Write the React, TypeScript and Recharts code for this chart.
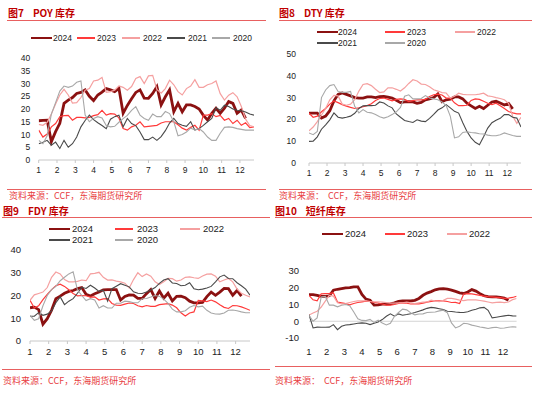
import { LineChart, Line, XAxis, YAxis, ReferenceLine } from 'recharts'

// weekly inventory (days)
const poy2024 = [15.4, 15.5, 15.6, 7.2, 11.1, 14.4, 22.2, 23.5, 24.5, 26.1, 26.5, 27.5, 25, 23.3, 25.5, 26.6, 28, 27.5, 26.8, 28.1, 18.3, 21.4, 24, 26.5, 27.5, 24.3, 24.2, 26.1, 28.8, 21.6, 24.8, 27.5, 18.9, 22.2, 18.9, 21.6, 21.6, 21, 20, 17.5, 15.7, 18.3, 20.3, 18.3, 20.3, 22.9, 22.2, 18.3, 19.6, 16.3]
const poy2023 = [11.7, 9, 10.2, 13, 14.3, 17, 17.4, 17.5, 15.6, 16.7, 16.7, 16.5, 16.7, 17.4, 17.8, 19.5, 17.6, 18.2, 18, 16.5, 12.3, 11.7, 13, 13.6, 15, 13, 13.2, 13.4, 13.6, 14.5, 15, 15, 15, 13.8, 12.5, 11.7, 12.8, 13.6, 11.7, 17.6, 17.6, 18.2, 17, 17.5, 15.6, 16.3, 14.3, 15.6, 13.6, 14.6, 12.7, 13]
const poy2022 = [14, 13.6, 14.8, 18, 22, 25.5, 27.7, 25.5, 22.3, 22.5, 24.5, 27.4, 28, 31, 31.3, 32.4, 26.5, 26.8, 27.4, 29, 28.5, 27.4, 28.8, 32, 32.7, 30, 33, 33.2, 27.7, 26.2, 28, 31.3, 29.5, 26.8, 25.5, 28, 29, 31.5, 28.5, 28.5, 29.5, 30, 31, 26, 23.5, 25.4, 26.4, 24.8, 21, 16, 13.5, 13]
const poy2021 = [6.4, 7, 7.7, 5.8, 7, 4.5, 7.7, 5, 6.4, 9, 13, 15.5, 17.6, 15.8, 14.6, 13.5, 12.3, 16, 17, 17.6, 13, 16.3, 14.3, 13.5, 11, 8, 8, 9, 7.7, 9.2, 11.5, 14.5, 16.3, 14.3, 13.6, 13.2, 15, 11.7, 12.3, 13.6, 15, 16.3, 20.5, 19.5, 21.5, 21, 20, 19.5, 19.3, 18.8, 18, 17.6]
const poy2020 = [7.7, 6.4, 9.5, 18, 22.5, 27, 29, 28.5, 29, 30.5, 31, 17.6, 15, 16.3, 17, 16.5, 13.5, 13, 13.2, 14.8, 16.2, 17.5, 19.5, 20.9, 17.6, 16.3, 15.6, 18, 17, 17, 19, 18.2, 15, 9.5, 10, 11, 12.5, 11.8, 12.3, 11, 9, 7.7, 7.7, 10.5, 12.8, 13, 12.8, 12.3, 12, 11.7, 11.7, 11.7]

const dty2024 = [22.9, 22.9, 22.9, 20.6, 21.5, 24, 28.5, 31.5, 32.1, 31.5, 30.8, 30, 29.8, 29.8, 30.3, 30.3, 30, 30.4, 30.6, 30.2, 29.8, 28.8, 27.7, 28, 28.1, 28, 27.4, 27.8, 29, 29.4, 30, 31.7, 28.1, 29, 29.3, 30.3, 30.3, 29.4, 27.4, 26.2, 25, 26, 25, 26.5, 28, 28.3, 27.5, 26.6, 27.3, 24.8]
const dty2023 = [22.9, 21, 21.5, 23.5, 25, 27, 28.5, 27.7, 26.8, 26.1, 25.5, 25, 25.3, 25.8, 26.3, 27.2, 28.7, 29.6, 29.8, 29.2, 28.5, 29.2, 29.4, 29.2, 28.2, 28.6, 29, 29, 29.2, 30.5, 31.3, 31.6, 31.2, 29.8, 29.8, 27.6, 26.3, 26.3, 26.5, 28.7, 29.4, 29.2, 28.3, 27.4, 26.8, 27.4, 26.3, 25, 23.6, 23, 22.5, 22.5]
const dty2022 = [14.8, 16.5, 19, 22, 25, 29, 31, 30.8, 27, 26.5, 27, 29, 33, 36, 36.4, 35.5, 33.8, 32.3, 32.6, 34.5, 34.5, 33.8, 33, 34.5, 36.5, 38.2, 37.6, 36.2, 36, 35, 33.6, 33, 32.3, 32.1, 29.8, 30.6, 32, 31.5, 31.3, 31.3, 31.3, 31.6, 32, 30.8, 30.5, 30, 29.6, 29, 27.4, 21.4, 18.2, 21]
const dty2021 = [9.9, 10, 12, 15.5, 17.5, 19.8, 23, 21, 20.6, 21, 21.5, 22.8, 25, 26.2, 26.3, 26.3, 26.5, 28, 27.5, 26.2, 25.3, 22.5, 21, 19.5, 19, 18.6, 19.8, 19.2, 19, 20.5, 22.3, 24.3, 25.3, 26.8, 25.3, 23.7, 22.9, 18.5, 14.5, 11.5, 9.5, 8.4, 12, 16, 18.5, 19.6, 20.5, 22.2, 22.2, 21, 20.6, 16.5]
const dty2020 = [13.8, 13, 14.5, 30, 33.5, 35.5, 36, 32.8, 32.4, 32.4, 32.8, 26, 23, 24.5, 23.3, 23, 22.2, 21.2, 20.6, 21.2, 22.2, 23.5, 25.5, 30.6, 31.3, 29.4, 29.4, 29.6, 30.9, 29.8, 29.4, 29, 28, 26.3, 21.4, 11.5, 12, 14, 14.3, 14, 13.8, 13.4, 13.3, 12.8, 12.5, 12.5, 13, 13.8, 13.2, 12.6, 12.2, 12.2]

const fdy2024 = [14.6, 14.9, 13.8, 7.4, 9.8, 13.5, 18.6, 19.7, 21, 21.8, 22.2, 23, 23.5, 20.5, 19.8, 20.8, 21.5, 22.5, 22.6, 22.6, 22.6, 18, 19.6, 20.3, 20.2, 18.7, 18.7, 20.8, 22.6, 18.7, 22, 18.8, 21, 17.6, 19.6, 19.7, 19, 17.5, 16.8, 16.8, 17, 19.5, 21.5, 20.1, 21.5, 23.1, 23, 20.1, 22.2, 19.7]
const fdy2023 = [17.9, 14.5, 15.5, 18.2, 20.5, 22.6, 24.3, 25, 24, 22.5, 20.9, 19.8, 20, 19.9, 19.3, 19.4, 18, 18.5, 18.6, 16.5, 15.8, 15.7, 16.2, 16.7, 16.5, 15.5, 15, 15.6, 15.2, 15.2, 16, 16.2, 16.4, 15.8, 14.6, 12.4, 11, 12.3, 12.8, 17.8, 17.6, 17.3, 18, 17.2, 15.9, 14.8, 14.3, 15.6, 15.5, 15, 14.3, 13.5]
const fdy2022 = [17.9, 20.3, 20.9, 21.5, 23.5, 28, 30.3, 29.5, 27, 26, 26, 26.2, 26.8, 26.5, 29.5, 29.7, 30.2, 28, 26.8, 26.9, 26.3, 26, 25.4, 23.3, 27, 30, 28.3, 29.5, 28.5, 26, 24.8, 26, 27.5, 27.4, 26.3, 26.8, 28, 28.2, 27.8, 27.5, 28.6, 29.4, 29.5, 28.5, 26, 26.8, 27.5, 26, 22.8, 21, 20.1, 19.4]
const fdy2021 = [10.9, 10.9, 12.5, 11.3, 11.8, 13.2, 16.8, 19.4, 16, 17.5, 18.6, 21, 23.6, 23.1, 24.5, 23.3, 21.8, 22.3, 17.5, 23, 24.1, 25.2, 24.5, 23.8, 21.6, 21, 20.9, 21.5, 22.4, 23.5, 25.3, 26.8, 27.4, 25.5, 25.3, 24.3, 24.5, 25.6, 23, 22.5, 22.8, 23.3, 24, 26, 28.2, 29, 27.5, 27.4, 25.6, 24.3, 22.8, 20.1]
const fdy2020 = [11.3, 9.1, 9.8, 15.5, 20, 22.6, 24, 26.5, 28, 29.5, 30.4, 22.5, 20, 17.8, 18.6, 18, 14.5, 15.5, 14.5, 14.5, 16.6, 16.6, 17.5, 17.3, 16.8, 16.8, 18.6, 18.7, 19.3, 20, 19.6, 18.4, 16.5, 14, 12.8, 12.8, 13.3, 14.8, 15.6, 15, 15.3, 13.5, 12.3, 11.9, 11.8, 12.3, 13.5, 13.6, 13.3, 12.8, 12.4, 12.4]

const psf2024 = [15.9, 15.9, 15.5, 14.9, 14.9, 15.2, 18.5, 19.1, 19.5, 19.9, 20.1, 20.5, 20.5, 16, 13.2, 12.5, 9.6, 9.8, 10.2, 10.2, 10.4, 11, 11.8, 12.2, 12.2, 12.2, 12.5, 13.6, 15.5, 16.8, 17.7, 18.8, 19.3, 19.5, 19.2, 18.6, 17.8, 17, 16.6, 17.5, 18.9, 18, 16.5, 15.2, 14.7, 14.5, 14.5, 14.2, 13.8, 12.6]
const psf2023 = [15.5, 12.8, 12.2, 16.4, 16.5, 16.6, 16.9, 11.5, 11, 10.5, 9.8, 10.6, 11.2, 11.6, 12, 11.8, 11.3, 10.9, 10.3, 9.6, 9.6, 10, 10.6, 11, 10.8, 10.3, 10.5, 10.4, 10.8, 11.4, 11.9, 12.2, 12.2, 12.2, 11.8, 11.2, 11.3, 10.6, 16.3, 16.5, 16.3, 15.9, 15.5, 15, 14.7, 14.5, 14.3, 14.1, 13.7, 13.8, 14.2, 14.9]
const psf2022 = [3.7, 4.9, 6, 8.5, 12, 15.5, 15, 11, 10.3, 10.6, 11.2, 11.8, 12.2, 12.2, 12.2, 11.8, 11.6, 11.6, 11.5, 11.1, 10.8, 10.8, 11, 11, 11.4, 11, 10.6, 11, 11.4, 11.5, 12.6, 12, 11.7, 12.5, 13.6, 13.6, 13.2, 12.6, 12.3, 12.8, 12.8, 12.8, 12.4, 12, 11.5, 11, 11.3, 11.4, 11.1, 11.5, 12.9, 13.6]
const psf2021 = [4, -4, -3.5, -3.6, -3.6, -3.5, -2, -5, -3, -2.2, -2, -1.6, -1.2, -1, -1.2, -2, -1.2, -0.5, 1, 3, 4.4, 3, 4.4, 3.6, 4, 4.5, 5.2, 6, 6.8, 7.7, 8.3, 8, 7.5, 7, 6, 5.8, 5.5, 5.3, 5.2, 5.7, 6.6, 7.2, 8, 8.3, 6.5, 2, 2.4, 2.8, 3.2, 3.6, 3.2, 3.1]
const psf2020 = [3.5, 0, 2, 14.5, 14.8, 9.6, 9.6, 8.6, 9.6, 10, 9.3, 5.5, 1.5, 0.5, 0.4, 1.1, -0.8, 0.6, -1, -2.2, -1.2, 3, 5.2, 7.2, 6.8, 5, 3.8, 4.3, 4.4, 5.2, 5.4, 5.5, 6.2, 6.6, 5, -1, -4, -3, -1.2, -1.5, -2.3, -2.8, -3.4, -3.8, -4.3, -3.8, -3.6, -4.2, -4, -3.6, -3.3, -3.5]

const MONTHS = [1, 2, 3, 4, 5, 6, 7, 8, 9, 10, 11, 12]
const X_END = 1 + (51 * 12) / 52

const STYLE: Record<string, { color: string; width: number }> = {
  '2024': { color: '#8b1111', width: 2.8 },
  '2023': { color: '#ff3a3a', width: 1.2 },
  '2022': { color: '#f5a0a0', width: 1.2 },
  '2021': { color: '#4a4a4a', width: 1.1 },
  '2020': { color: '#a8a8a8', width: 1.1 },
}

const TITLE_RED = '#c00000'
const SRC_RED = '#e8413f'
const NUM_FONT = '"Liberation Sans", Arial, sans-serif'
const CJK_FONT = '"Noto Sans CJK SC", "Liberation Sans", sans-serif'

function buildRows(series: Record<string, number[]>) {
  const n = Math.max(...Object.values(series).map((s) => s.length))
  return Array.from({ length: n }, (_, i) => {
    const row: Record<string, number | undefined> = { m: 1 + (i * 12) / 52 }
    for (const k of Object.keys(series)) row[k] = series[k][i]
    return row
  })
}

type LegendItem = { key: string; x: number; y: number; len: number; tx: number }

type PanelProps = {
  left: number
  top: number
  fig: string
  name: string
  titleX: number
  titleY: number
  ruleX0: number
  ruleX1: number
  srcRuleY: number
  srcY: number
  srcX: number
  srcText: string
  series: Record<string, number[]>
  yDomain: [number, number]
  yTicks: number[]
  x0: number
  x1: number
  yTop: number
  yBottom: number
  yGap: number
  fontSize: number
  legend: LegendItem[]
  zeroLine?: boolean
}

function Panel(p: PanelProps) {
  const rows = buildRows(p.series)
  const height = p.yBottom + 26
  const keys = Object.keys(p.series)
  return (
    <div style={{ position: 'absolute', left: p.left, top: p.top, width: 275, height: 197 }}>
      <div
        style={{
          position: 'absolute', left: p.titleX, top: p.titleY - 6, fontFamily: CJK_FONT, fontWeight: 700,
          fontSize: 10, color: TITLE_RED, lineHeight: '12px', whiteSpace: 'nowrap',
        }}
      >
        <span>{p.fig}</span>
        <span style={{ marginLeft: 9 }}>{p.name}</span>
      </div>
      <div style={{ position: 'absolute', left: p.ruleX0, width: p.ruleX1 - p.ruleX0, top: 20, height: 1, background: '#e86060' }} />
      {p.legend.map((it) => (
        <div key={it.key}>
          <div
            style={{
              position: 'absolute', left: it.x, top: it.y - STYLE[it.key].width / 2, width: it.len,
              height: STYLE[it.key].width, background: STYLE[it.key].color,
            }}
          />
          <div
            style={{
              position: 'absolute', left: it.tx, top: it.y - 6, lineHeight: '12px',
              fontFamily: NUM_FONT, fontSize: p.fontSize, color: '#222',
            }}
          >
            {it.key}
          </div>
        </div>
      ))}
      <div style={{ position: 'absolute', left: 0, top: 0 }}>
        <LineChart
          width={275}
          height={height}
          data={rows}
          margin={{ top: p.yTop, right: 275 - p.x1, left: 0, bottom: 0 }}
        >
          <XAxis
            dataKey="m"
            type="number"
            domain={[1, X_END]}
            ticks={MONTHS}
            interval={0}
            allowDataOverflow
            height={height - p.yBottom}
            axisLine={p.zeroLine ? false : { stroke: '#c8c8c8' }}
            tickLine={p.zeroLine ? false : { stroke: '#c8c8c8' }}
            tickSize={3}
            tickMargin={p.zeroLine ? 7 : 4}
            tick={{ fontSize: p.fontSize, fill: '#222', fontFamily: NUM_FONT }}
          />
          <YAxis
            type="number"
            domain={p.yDomain}
            ticks={p.yTicks}
            interval={0}
            width={p.x0}
            axisLine={false}
            tickLine={false}
            tickMargin={p.yGap}
            tick={{ fontSize: p.fontSize, fill: '#222', fontFamily: NUM_FONT }}
          />
          {p.zeroLine && <ReferenceLine y={0} stroke="#d4d4d4" strokeWidth={1} />}
          {[...keys].reverse().map((k) => (
            <Line
              key={k}
              dataKey={k}
              type="linear"
              stroke={STYLE[k].color}
              strokeWidth={STYLE[k].width}
              dot={false}
              activeDot={false}
              isAnimationActive={false}
              connectNulls={false}
            />
          ))}
        </LineChart>
      </div>
      <div style={{ position: 'absolute', left: p.ruleX0, width: p.ruleX1 - p.ruleX0, top: p.srcRuleY, height: 1, background: '#e86060' }} />
      <div
        style={{
          position: 'absolute', left: p.srcX, top: p.srcY - 5, lineHeight: '10px', fontFamily: CJK_FONT,
          fontSize: 9, color: SRC_RED, whiteSpace: 'pre',
        }}
      >
        {p.srcText}
      </div>
    </div>
  )
}

export default function App() {
  return (
    <div style={{ position: 'absolute', left: 0, top: 0, width: 550, height: 394, background: '#fff', overflow: 'hidden' }}>
      <Panel
        left={0}
        top={0}
        fig="图7"
        name="POY 库存"
        titleX={8}
        titleY={13}
        ruleX0={7}
        ruleX1={266}
        srcRuleY={189}
        srcY={196}
        srcX={9}
        srcText="资料来源：CCF，东海期货研究所"
        series={{ '2024': poy2024, '2023': poy2023, '2022': poy2022, '2021': poy2021, '2020': poy2020 }}
        yDomain={[0, 40]}
        yTicks={[0, 5, 10, 15, 20, 25, 30, 35, 40]}
        x0={38.7}
        x1={254}
        yTop={58}
        yBottom={160}
        yGap={2.5}
        fontSize={8.5}
        legend={[
          { key: '2024', x: 31, y: 38, len: 21, tx: 53 },
          { key: '2023', x: 77, y: 38, len: 18, tx: 97 },
          { key: '2022', x: 122, y: 38, len: 18, tx: 143 },
          { key: '2021', x: 167, y: 38, len: 18, tx: 188 },
          { key: '2020', x: 212, y: 38, len: 18, tx: 233 },
        ]}
      />
      <Panel
        left={275}
        top={0}
        fig="图8"
        name="DTY 库存"
        titleX={4}
        titleY={13}
        ruleX0={4}
        ruleX1={257}
        srcRuleY={189}
        srcY={196}
        srcX={4}
        srcText="资料来源：  CCF，东海期货研究所"
        series={{ '2024': dty2024, '2023': dty2023, '2022': dty2022, '2021': dty2021, '2020': dty2020 }}
        yDomain={[0, 50]}
        yTicks={[0, 10, 20, 30, 40, 50]}
        x0={34}
        x1={246}
        yTop={54}
        yBottom={163}
        yGap={7}
        fontSize={8.5}
        legend={[
          { key: '2024', x: 42, y: 32, len: 21, tx: 63 },
          { key: '2023', x: 110, y: 32, len: 20, tx: 132 },
          { key: '2022', x: 180, y: 32, len: 20, tx: 202 },
          { key: '2021', x: 42, y: 43, len: 21, tx: 63 },
          { key: '2020', x: 110, y: 43, len: 20, tx: 132 },
        ]}
      />
      <Panel
        left={0}
        top={197}
        fig="图9"
        name="FDY 库存"
        titleX={3}
        titleY={14}
        ruleX0={2}
        ruleX1={270}
        srcRuleY={172}
        srcY={184}
        srcX={3}
        srcText="资料来源：CCF，东海期货研究所"
        series={{ '2024': fdy2024, '2023': fdy2023, '2022': fdy2022, '2021': fdy2021, '2020': fdy2020 }}
        yDomain={[0, 40]}
        yTicks={[0, 10, 20, 30, 40]}
        x0={30}
        x1={250}
        yTop={53}
        yBottom={144}
        yGap={3}
        fontSize={9.5}
        legend={[
          { key: '2024', x: 49, y: 32, len: 21, tx: 72 },
          { key: '2023', x: 115, y: 32, len: 18, tx: 137 },
          { key: '2022', x: 180, y: 32, len: 20, tx: 203 },
          { key: '2021', x: 49, y: 43, len: 21, tx: 72 },
          { key: '2020', x: 115, y: 43, len: 18, tx: 137 },
        ]}
      />
      <Panel
        left={275}
        top={197}
        fig="图10"
        name="短纤库存"
        titleX={0}
        titleY={14}
        ruleX0={0}
        ruleX1={257}
        srcRuleY={169}
        srcY={184}
        srcX={0}
        srcText="资料来源：  CCF，东海期货研究所"
        series={{ '2024': psf2024, '2023': psf2023, '2022': psf2022, '2021': psf2021, '2020': psf2020 }}
        yDomain={[-10, 30]}
        yTicks={[-10, 0, 10, 20, 30]}
        x0={34}
        x1={241.6}
        yTop={74}
        yBottom={141}
        yGap={4}
        fontSize={9.5}
        zeroLine
        legend={[
          { key: '2024', x: 47, y: 37, len: 21, tx: 70 },
          { key: '2023', x: 110, y: 37, len: 20, tx: 132 },
          { key: '2022', x: 172, y: 37, len: 20, tx: 194 },
        ]}
      />
    </div>
  )
}
